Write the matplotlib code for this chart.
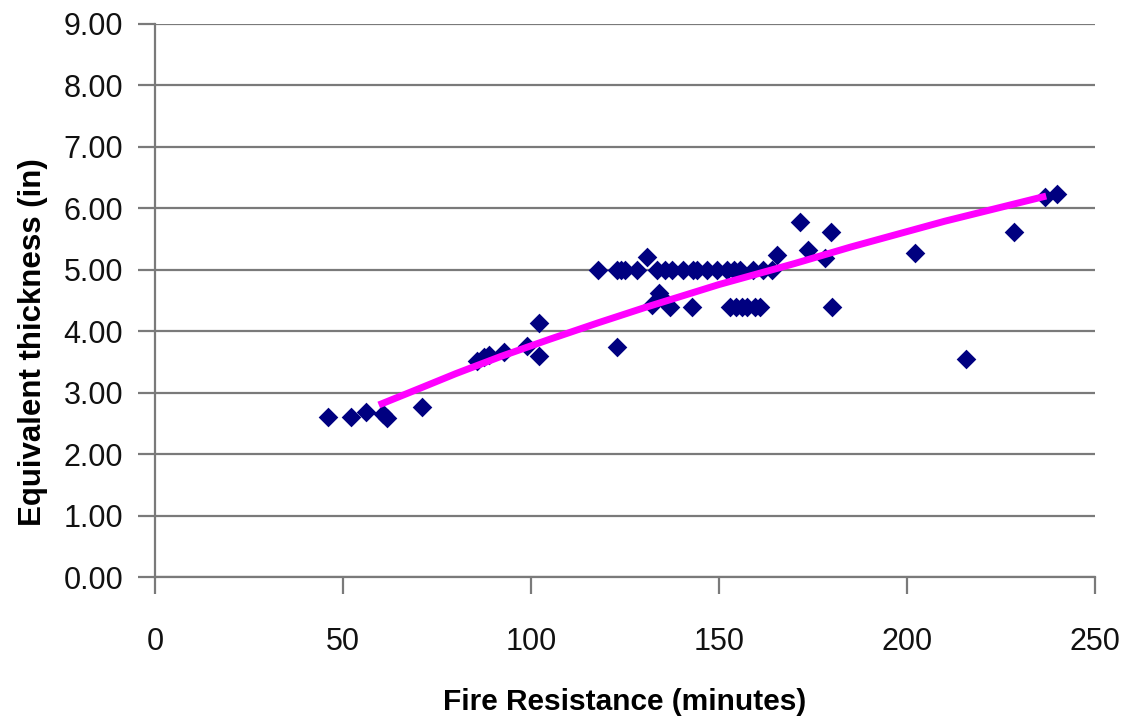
import matplotlib

matplotlib.use("Agg")
import matplotlib.pyplot as plt
import numpy as np

plt.rcParams["font.family"] = ["Liberation Sans", "DejaVu Sans"]

# measured points (fire resistance in minutes, equivalent thickness in inches)
fire_minutes = [
    46, 52, 56, 60.7, 61.8, 71,
    85.6, 87.5, 88.8, 92.8, 99, 102, 102,
    117.9, 122.8, 122.9, 124, 125, 128.2, 130.8,
    132.1, 133.9, 134.5, 133.4, 135.5, 137, 137.6,
    140.5, 142.7, 143, 144.2, 146.8, 149.5, 152, 154, 155.6,
    153, 154.5, 156, 157.5, 159.5, 161,
    159, 161.8, 164, 165.3, 171.5, 173.7, 178.2, 179.8, 180,
    202, 215.7, 228.3, 236.7, 239.9,
]
thickness_in = [
    2.60, 2.60, 2.69, 2.66, 2.58, 2.77,
    3.52, 3.58, 3.61, 3.66, 3.76, 4.13, 3.60,
    5.00, 3.75, 5.00, 5.00, 5.00, 5.00, 5.21,
    4.43, 4.62, 4.55, 5.00, 5.00, 4.40, 5.00,
    5.00, 4.40, 5.00, 5.00, 5.00, 5.00, 5.00, 5.00, 5.00,
    4.40, 4.40, 4.40, 4.40, 4.40, 4.40,
    5.00, 5.00, 5.00, 5.24, 5.77, 5.32, 5.19, 5.61, 4.40,
    5.28, 3.55, 5.61, 6.19, 6.23,
]

# trend line
trend_minutes = [59.5, 70, 80, 92, 105, 118, 130, 150, 170, 185, 210, 237]
trend_thickness = [2.80, 3.06, 3.31, 3.59, 3.87, 4.14, 4.38, 4.76, 5.10, 5.37, 5.79, 6.20]

y_ticks = np.arange(0, 10, 1)
x_ticks = np.arange(0, 300, 50)

fig = plt.figure(figsize=(11.34, 7.22), dpi=100)
ax = fig.add_axes([0.1367, 0.2008, 0.8290, 0.7660])

for y in y_ticks:
    ax.axhline(y, color="#7a7a7a", linewidth=1.6, zorder=1)

ax.scatter(fire_minutes, thickness_in, marker="D", s=100, color="#000080",
           edgecolors="#000080", linewidths=0, zorder=3)
ax.plot(trend_minutes, trend_thickness, color="#ff00ff", linewidth=5,
        solid_capstyle="butt", zorder=4)

ax.set_xlim(0, 250)
ax.set_ylim(0, 9)
ax.set_xticks(x_ticks)
ax.set_yticks(y_ticks)
ax.set_yticklabels([f"{v:.2f}" for v in y_ticks])

for side in ("top", "right"):
    ax.spines[side].set_visible(False)
for side in ("left", "bottom"):
    ax.spines[side].set_color("#7a7a7a")
    ax.spines[side].set_linewidth(1.6)

ax.tick_params(axis="both", which="major", direction="out", length=12,
               width=1.6, color="#7a7a7a", labelsize=22, labelcolor="#111111")
ax.tick_params(axis="x", pad=24)
ax.tick_params(axis="y", pad=11)

ax.set_xlabel("Fire Resistance (minutes)", fontsize=21.5, fontweight="bold")
ax.set_ylabel("Equivalent thickness (in)", fontsize=22.5, fontweight="bold")
ax.xaxis.set_label_coords(0.5, -0.2)
ax.yaxis.set_label_coords(-0.114, 0.425)

fig.savefig("out.png", dpi=100)
